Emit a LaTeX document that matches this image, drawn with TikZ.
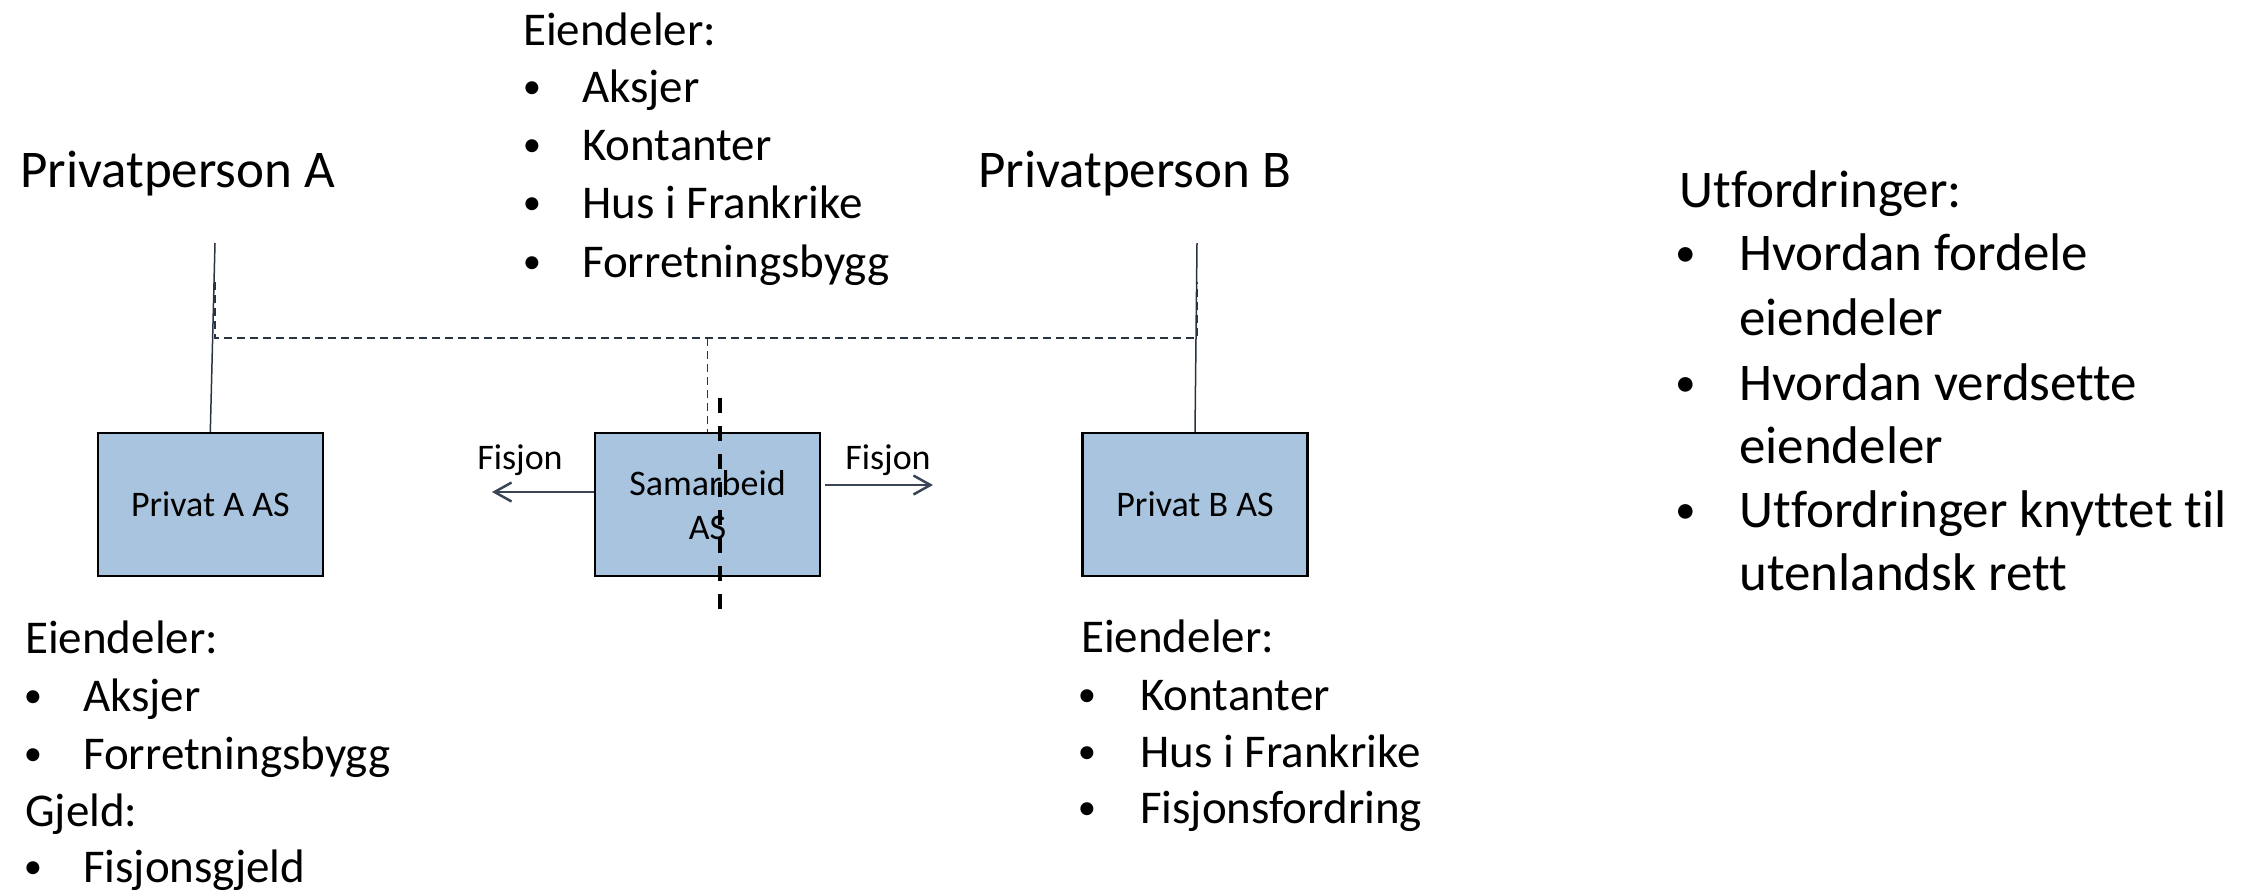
\documentclass[tikz,border=0pt]{standalone}
\usepackage{graphicx}
\usepackage{fontspec}
\setmainfont[Ligatures=NoCommon]{Carlito}
\usetikzlibrary{arrows.meta}
\definecolor{boxfill}{RGB}{169,196,222}
\definecolor{linec}{RGB}{40,52,66}
\definecolor{arrc}{RGB}{58,70,86}
\newcommand{\smbul}{\raisebox{3.5pt}{\scalebox{0.78}{•}}}
\begin{document}
\begin{tikzpicture}[x=1pt,y=-1pt,
  bigtxt/.style={font=\fontsize{53}{64}\selectfont, inner sep=0, anchor=base west},
  midtxt/.style={font=\fontsize{47}{58}\selectfont, inner sep=0, anchor=base west},
  smalltxt/.style={font=\fontsize{36}{44}\selectfont, inner sep=0, anchor=base},
  bulmid/.style={font=\fontsize{47}{58}\selectfont, inner sep=0, anchor=base},
  bulbig/.style={font=\fontsize{53}{64}\selectfont, inner sep=0, anchor=base},
  cobox/.style={draw=black, line width=2.5pt, fill=boxfill, minimum width=225pt,
    minimum height=143pt, inner sep=0, font=\fontsize{36}{44}\selectfont, align=center},
  ownline/.style={draw=linec, line width=1.5pt},
  ownlink/.style={draw=linec, line width=1.5pt, dash pattern=on 8pt off 5pt},
  fisarrow/.style={draw=arrc, line width=2.5pt, -{Straight Barb[length=17pt,width=19pt,line width=2.5pt]}},
  cutline/.style={draw=black, line width=4pt, dash pattern=on 15pt off 13pt}
]
\useasboundingbox (0,0) rectangle (2248,892);

% person titles
\node[bigtxt] (pA) at (20,187) {Privatperson A};
\node[bigtxt] (pB) at (978,187) {Privatperson B};

% boxes
\node[cobox] (boxA) at (210.3,504.7) {Privat A AS};
\node[cobox] (sam) at (707.5,504.7) {Samarbeid\\AS};
\node[cobox] (boxB) at (1195,504.7) {Privat B AS};

% ownership lines
\coordinate (topA) at (215,243);
\coordinate (topB) at (1197,243);
\draw[ownline] (topA) -- (boxA.north);
\draw[ownline] (topB) -- (boxB.north);

% dashed joint ownership
\coordinate (da) at (215,282);
\coordinate (db) at (1197,282);
\coordinate (ja) at (215,338);
\coordinate (jb) at (1197,338);
\draw[ownlink] (da) -- (ja) -- (jb) -- (db);
\draw[ownlink] (ja -| sam.north) -- (sam.north);

% fisjon arrows
\coordinate (la) at (492,492);
\coordinate (rs) at (825,485);
\coordinate (ra) at (933,485);
\draw[fisarrow] (sam.west |- la) -- (la);
\draw[fisarrow] (rs) -- (ra);
\node[smalltxt] (fl) at (520,469) {Fisjon};
\node[smalltxt] (fr) at (888,469) {Fisjon};

% cut line
\coordinate (cut1) at (720,398);
\coordinate (cut2) at (720,612);
\draw[cutline] (cut1) -- (cut2);

% top list
\node[midtxt] (t0) at (523,45) {Eiendeler:};
\node[bulmid] (tb1) at (532,102) {\smbul};
\node[midtxt] (t1) at (582,102) {Aksjer};
\node[bulmid] (tb2) at (532,160) {\smbul};
\node[midtxt] (t2) at (582,160) {Kontanter};
\node[bulmid] (tb3) at (532,218) {\smbul};
\node[midtxt] (t3) at (582,218) {Hus i Frankrike};
\node[bulmid] (tb4) at (532,277) {\smbul};
\node[midtxt] (t4) at (582,277) {Forretningsbygg};

% bottom-left list
\node[midtxt] (a0) at (25,653) {Eiendeler:};
\node[bulmid] (ab1) at (33,711) {\smbul};
\node[midtxt] (a1) at (83,711) {Aksjer};
\node[bulmid] (ab2) at (33,769) {\smbul};
\node[midtxt] (a2) at (83,769) {Forretningsbygg};
\node[midtxt] (a3) at (25,826) {Gjeld:};
\node[bulmid] (ab4) at (33,882) {\smbul};
\node[midtxt] (a4) at (83,882) {Fisjonsgjeld};

% bottom-right list
\node[midtxt] (b0) at (1081,652) {Eiendeler:};
\node[bulmid] (bb1) at (1087,710) {\smbul};
\node[midtxt] (b1) at (1140,710) {Kontanter};
\node[bulmid] (bb2) at (1087,767) {\smbul};
\node[midtxt] (b2) at (1140,767) {Hus i Frankrike};
\node[bulmid] (bb3) at (1087,823) {\smbul};
\node[midtxt] (b3) at (1140,823) {Fisjonsfordring};

% right list
\node[bigtxt] (u0) at (1679,207) {Utfordringer:};
\node[bulbig] (ub1) at (1686,270) {\smbul};
\node[bigtxt] (u1) at (1739,270) {Hvordan fordele};
\node[bigtxt] (u1b) at (1739,335) {eiendeler};
\node[bulbig] (ub2) at (1686,400) {\smbul};
\node[bigtxt] (u2) at (1739,400) {Hvordan verdsette};
\node[bigtxt] (u2b) at (1739,463) {eiendeler};
\node[bulbig] (ub3) at (1686,527) {\smbul};
\node[bigtxt] (u3) at (1739,527) {Utfordringer knyttet til};
\node[bigtxt] (u3b) at (1739,590) {utenlandsk rett};
\end{tikzpicture}
\end{document}
